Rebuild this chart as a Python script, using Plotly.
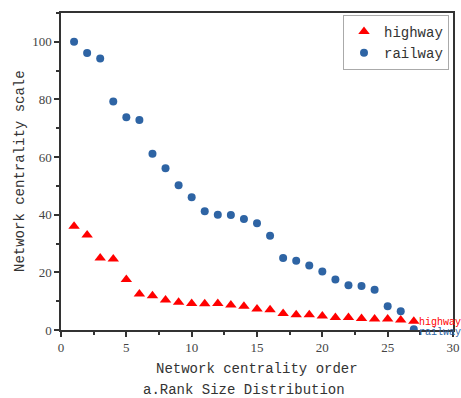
import plotly.graph_objects as go

rank = list(range(1, 28))
highway = [36.0, 33.0, 25.0, 24.6, 17.5, 12.5, 11.9, 10.4, 9.6, 9.2, 9.1, 9.2, 8.7,
           8.2, 7.3, 7.0, 5.7, 5.3, 5.3, 4.9, 4.3, 4.3, 4.0, 3.8, 3.8, 3.5, 3.0]
railway = [100.0, 96.1, 94.2, 79.3, 73.8, 72.9, 61.2, 56.1, 50.2, 46.1, 41.2, 40.0, 39.9,
           38.5, 37.0, 32.7, 25.0, 24.0, 22.4, 20.3, 17.5, 15.5, 15.3, 14.0, 8.2, 6.5, 0.3]
series_names = ["highway", "railway"]
x_ticks = [0, 5, 10, 15, 20, 25, 30]
y_ticks = [0, 20, 40, 60, 80, 100]

RED = "#ff0000"
BLUE = "#2e64a4"
MONO = "Liberation Mono"
SERIF = "Liberation Serif"

W, H = 461, 398
L, R, T, B = 61, 8, 13, 68
plot_w = W - L - R
plot_h = H - T - B


def px_x(px):
    return (px - L) / plot_w


def px_y(py):
    return (H - B - py) / plot_h


fig = go.Figure()
fig.add_trace(go.Scatter(x=rank, y=highway, mode="markers", name=series_names[0],
                         marker=dict(symbol="triangle-up", size=10, color=RED)))
fig.add_trace(go.Scatter(x=rank, y=railway, mode="markers", name=series_names[1],
                         marker=dict(symbol="circle", size=8, color=BLUE)))

fig.add_annotation(x=rank[-1], y=highway[-1], text=series_names[0], showarrow=False,
                   xanchor="left", yanchor="middle", xshift=3, yshift=-1,
                   font=dict(family=MONO, size=10, color=RED))
fig.add_annotation(x=rank[-1], y=railway[-1], text=series_names[1], showarrow=False,
                   xanchor="left", yanchor="middle", xshift=3, yshift=-3,
                   font=dict(family=MONO, size=10, color=BLUE))
fig.add_annotation(x=px_x(257), xref="paper", y=px_y(369), yref="paper",
                   text="Network centrality order", showarrow=False,
                   xanchor="center", yanchor="middle",
                   font=dict(family=MONO, size=14, color="#333"))
fig.add_annotation(x=px_x(20), xref="paper", y=px_y(171), yref="paper",
                   text="Network centrality scale", showarrow=False, textangle=-90,
                   xanchor="center", yanchor="middle",
                   font=dict(family=MONO, size=14, color="#333"))
fig.add_annotation(x=px_x(244), xref="paper", y=px_y(390), yref="paper",
                   text="a.Rank Size Distribution", showarrow=False,
                   xanchor="center", yanchor="middle",
                   font=dict(family=MONO, size=14, color="#333"))

axis_common = dict(showline=True, linecolor="#333", linewidth=1.5, mirror=True,
                   ticks="outside", ticklen=5, tickwidth=1.5, tickcolor="#333",
                   showgrid=False, zeroline=False, automargin=False,
                   tickfont=dict(family=SERIF, size=13, color="#444"))

fig.update_xaxes(range=[0, 30], tickvals=x_ticks,
                 minor=dict(ticks="outside", ticklen=3, tickwidth=1.5, tickcolor="#333", dtick=2.5, tick0=0),
                 **axis_common)
fig.update_yaxes(range=[0, 110], tickvals=y_ticks,
                 minor=dict(ticks="outside", ticklen=3, tickwidth=1.5, tickcolor="#333", dtick=10, tick0=0),
                 **axis_common)

fig.update_layout(
    width=W, height=H,
    margin=dict(l=L, r=R, t=T, b=B, pad=0, autoexpand=False),
    paper_bgcolor="white", plot_bgcolor="white",
    showlegend=True,
    legend=dict(x=px_x(449), y=px_y(15), xanchor="right", yanchor="top",
                bordercolor="#aaa", borderwidth=1, bgcolor="white",
                font=dict(family=MONO, size=14, color="#333"),
                tracegroupgap=0, itemwidth=30),
)

fig.write_html("out.html", config={"displayModeBar": False},
               post_script="document.body.style.margin='0';document.body.style.overflow='hidden';")
